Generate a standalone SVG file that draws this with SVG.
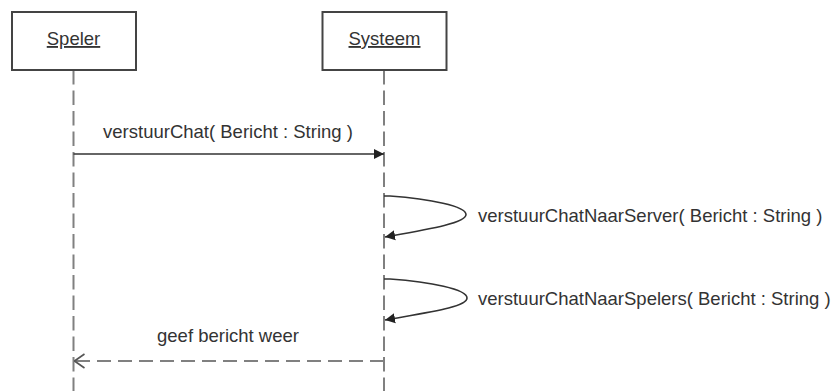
<svg xmlns="http://www.w3.org/2000/svg" width="833" height="391" viewBox="0 0 833 391">
  <defs>
    <marker id="filled" viewBox="0 0 10 10" refX="10" refY="5" markerWidth="10" markerHeight="11" markerUnits="userSpaceOnUse" orient="auto">
      <path d="M0,0 L10,5 L0,10 Z" fill="#222"/>
    </marker>
    <marker id="open" viewBox="0 0 12 16" refX="11" refY="8" markerWidth="12" markerHeight="16" markerUnits="userSpaceOnUse" orient="auto">
      <path d="M1,1 L11,8 L1,15" fill="none" stroke="#555" stroke-width="1.6"/>
    </marker>
  </defs>
  <style>
    .box { fill: #ffffff; stroke: #444444; stroke-width: 2; }
    .lifeline { stroke: #808080; stroke-width: 2; stroke-dasharray: 14.5 6; fill: none; }
    .label { font-family: "Liberation Sans", Arial, sans-serif; font-size: 18.5px; fill: #333333; }
    .name { font-family: "Liberation Sans", Arial, sans-serif; font-size: 18.5px; fill: #333333; text-decoration: underline; }
    .call { stroke: #333333; stroke-width: 1.6; fill: none; marker-end: url(#filled); }
    .reply { stroke: #808080; stroke-width: 2; stroke-dasharray: 14 7; fill: none; marker-end: url(#open); }
  </style>
  <rect width="833" height="391" fill="#ffffff"/>

  <!-- participants with their lifelines -->
  <g id="speler">
    <line class="lifeline" x1="73.5" y1="70" x2="73.5" y2="391"/>
    <rect class="box" x="12" y="12" width="124" height="58"/>
    <text class="name" x="73.5" y="45" text-anchor="middle">Speler</text>
  </g>
  <g id="systeem">
    <line class="lifeline" x1="384" y1="70" x2="384" y2="391"/>
    <rect class="box" x="322.5" y="12" width="124" height="58"/>
    <text class="name" x="384.5" y="45" text-anchor="middle">Systeem</text>
  </g>

  <!-- messages -->
  <g id="connectors">
    <line class="call" x1="73.5" y1="154" x2="384" y2="154"/>
    <path class="call" d="M384,196 L390,196 C430,199 466,206 466,214.5 C466,223 430,229 385,237"/>
    <path class="call" d="M384,279 L390,279 C430,282 467,289 467,298 C467,307 430,312 385,320"/>
    <line class="reply" x1="384" y1="361" x2="74.5" y2="361"/>
  </g>

  <!-- message labels -->
  <g id="labels">
    <text class="label" x="228" y="138" text-anchor="middle">verstuurChat( Bericht : String )</text>
    <text class="label" x="478" y="222">verstuurChatNaarServer( Bericht : String )</text>
    <text class="label" x="478" y="305">verstuurChatNaarSpelers( Bericht : String )</text>
    <text class="label" x="228" y="342" text-anchor="middle">geef bericht weer</text>
  </g>
</svg>
